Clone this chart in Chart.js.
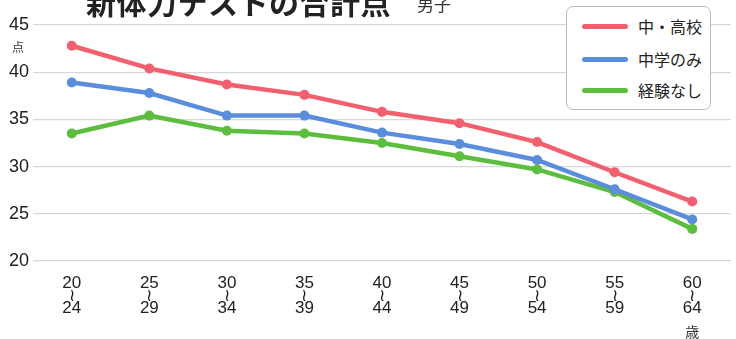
<!DOCTYPE html>
<html>
<head>
<meta charset="utf-8">
<script src="https://cdn.jsdelivr.net/npm/chart.js@4"></script>
<style>
html, body { margin: 0; padding: 0; background: #fff; overflow: hidden; }
#wrap { position: relative; width: 736px; height: 339px; overflow: hidden; }
#title { position: absolute; left: 86px; top: -21px; font: bold 30px 'Noto Sans CJK JP'; color: #222; white-space: nowrap; letter-spacing: 0.5px; }
#sub { position: absolute; left: 417px; top: -9px; font: 17px 'Noto Sans CJK JP'; color: #333; white-space: nowrap; }
#legend { position: absolute; left: 566px; top: 6px; width: 145px; height: 104px; border: 1.5px solid #bbb; border-radius: 7px; background: #fff; box-sizing: border-box; }
.row { position: absolute; left: 15px; height: 20px; display: flex; align-items: center; font: 16px 'Noto Sans CJK JP'; color: #222; }
.row i { display: inline-block; width: 46px; height: 5px; border-radius: 3px; margin-right: 10px; }
</style>
</head>
<body>
<div id="wrap">
  <canvas id="chart" width="736" height="339"></canvas>
  <div id="title">新体力テストの合計点</div>
  <div id="sub">男子</div>
  <div id="legend"></div>
</div>
<script>
// age groups (start / end of each range)
var ageFrom = ['20', '25', '30', '35', '40', '45', '50', '55', '60'];
var ageTo = ['24', '29', '34', '39', '44', '49', '54', '59', '64'];

var seriesNames = ['中・高校', '中学のみ', '経験なし'];
var highSchool = [42.8, 40.4, 38.7, 37.6, 35.8, 34.6, 32.6, 29.4, 26.3];
var juniorOnly = [38.9, 37.8, 35.4, 35.4, 33.6, 32.4, 30.7, 27.6, 24.4];
var noExp = [33.5, 35.4, 33.8, 33.5, 32.5, 31.1, 29.7, 27.3, 23.4];
var colors = ['#f2606f', '#5a8ddc', '#5dbd3d'];

var yTicks = [20, 25, 30, 35, 40, 45];

var labels = ageFrom.map(function (a, i) {
    return [a, '≀', ageTo[i]];
});

var data = [highSchool, juniorOnly, noExp];
var datasets = data.map(function (d, i) {
    return {
        label: seriesNames[i],
        data: d,
        borderColor: colors[i],
        backgroundColor: colors[i],
        borderWidth: 4.5,
        pointRadius: 5,
        pointBorderWidth: 0,
        pointHoverRadius: 5,
        tension: 0
    };
});

// legend box
var legend = document.getElementById('legend');
var rowTop = [9, 42, 73];
seriesNames.forEach(function (name, i) {
    var r = document.createElement('div');
    r.className = 'row';
    r.style.top = rowTop[i] + 'px';
    r.innerHTML = '<i style="background:' + colors[i] + '"></i>' + name;
    legend.appendChild(r);
});

// unit labels: 点 under the top y tick, 歳 under the last age group
var unitLabels = {
    id: 'unitLabels',
    afterDraw: function (chart) {
        var ctx = chart.ctx;
        var y = chart.scales.y.getPixelForValue(45);
        var x = chart.scales.x.getPixelForValue(ageFrom.length - 1);
        ctx.save();
        ctx.fillStyle = '#333';
        ctx.textAlign = 'center';
        ctx.textBaseline = 'middle';
        ctx.font = '12px "Noto Sans CJK JP"';
        ctx.fillText('点', 18, y + 22);
        ctx.font = '14px "Noto Sans CJK JP"';
        ctx.fillText('歳', x, 332);
        ctx.restore();
    }
};

new Chart(document.getElementById('chart'), {
    type: 'line',
    data: { labels: labels, datasets: datasets },
    plugins: [unitLabels],
    options: {
        responsive: false,
        animation: false,
        layout: { padding: { top: 25, right: 0, left: 0, bottom: 0 } },
        plugins: {
            legend: { display: false },
            tooltip: { enabled: false }
        },
        scales: {
            x: {
                offset: true,
                grid: { display: false },
                border: { display: false },
                ticks: {
                    color: '#222',
                    padding: 8,
                    maxRotation: 0,
                    autoSkip: false,
                    font: { family: '"Liberation Sans Narrow", "Liberation Sans"', size: 17, lineHeight: 0.74 }
                },
                afterFit: function (s) { s.height = 78; }
            },
            y: {
                min: 20,
                max: 45,
                afterBuildTicks: function (s) {
                    s.ticks = yTicks.map(function (v) { return { value: v }; });
                },
                grid: { color: '#d8d8d8', lineWidth: 1.2, drawTicks: false },
                border: { display: false },
                ticks: {
                    color: '#222',
                    padding: 4,
                    font: { family: '"Liberation Sans Narrow", "Liberation Sans"', size: 18 }
                },
                afterFit: function (s) { s.width = 33; }
            }
        }
    }
});
</script>
</body>
</html>
